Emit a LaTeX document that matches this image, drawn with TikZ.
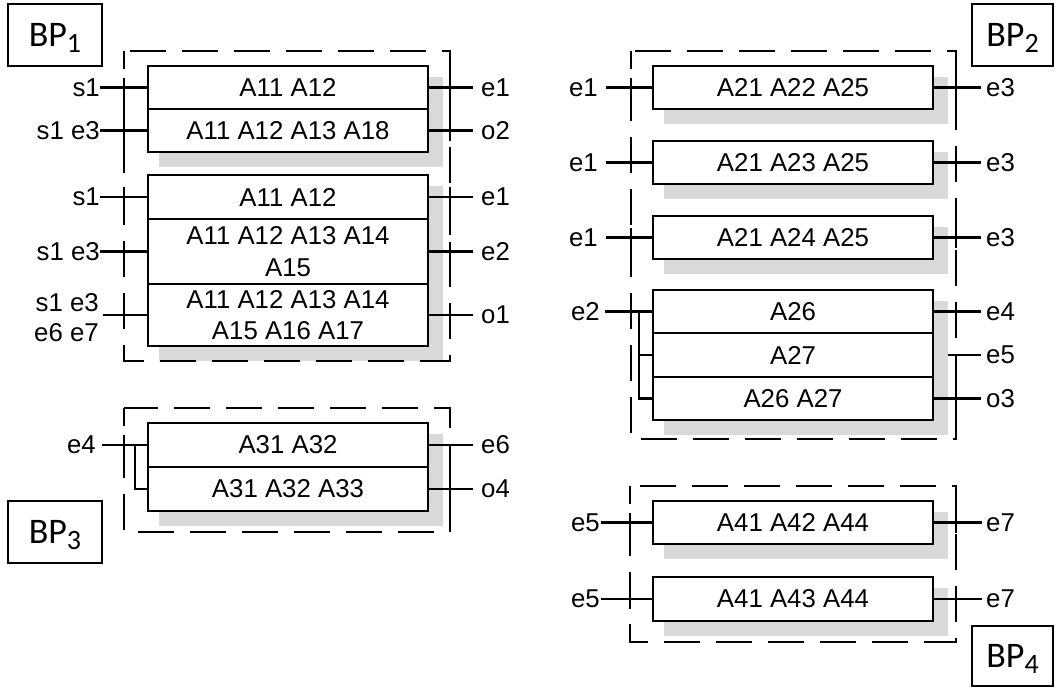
\documentclass[tikz,border=0pt]{standalone}
\usepackage{fontspec}
\setmainfont{Liberation Sans}
\newfontfamily\bpfont{Carlito}
\usetikzlibrary{backgrounds}
\begin{document}
\begin{tikzpicture}[x=1pt,y=-1pt,
 row/.style={draw, line width=2.3pt, fill=white, minimum width=280pt, inner sep=0pt, align=center, font=\fontsize{25.8}{31.7}\selectfont},
 lbl/.style={inner sep=0pt, align=right, font=\fontsize{25.8}{30}\selectfont},
 conn/.style={line width=2.1pt},
 dbox/.style={line width=2.2pt, dash pattern=on 36pt off 16pt, dash phase=18pt},
 tk/.style={line width=2.2pt},
 shd/.style={fill=black!15},
 bp/.style={draw, line width=2.3pt, inner sep=0pt, text height=23pt, text depth=0pt, font=\bpfont\fontsize{36}{36}\selectfont}]
\useasboundingbox (0,0) rectangle (1055,688);

% BP labels
\node[bp, minimum width=94pt, minimum height=62pt] (bp1) at (55,35) {BP\raisebox{-6pt}{\fontsize{28}{28}\selectfont 1}};
\node[bp, minimum width=81pt, minimum height=62pt] (bp2) at (1012.5,35) {BP\raisebox{-6pt}{\fontsize{28}{28}\selectfont 2}};
\node[bp, minimum width=94pt, minimum height=62pt] (bp3) at (55,532) {BP\raisebox{-6pt}{\fontsize{28}{28}\selectfont 3}};
\node[bp, minimum width=81pt, minimum height=60pt] (bp4) at (1012.5,656) {BP\raisebox{-6pt}{\fontsize{28}{28}\selectfont 4}};

% dashed process boundaries
\draw[dbox] (124,51) rectangle (450,361);
\draw[dbox] (124,408) rectangle (450,532);
\draw[dbox] (631,51) rectangle (956,439);
\draw[dbox] (630,486) rectangle (956,642);

% rows group 1
\node[row, minimum height=43pt] (r11) at (288,87.5) {A11 A12};
\node[row, minimum height=43pt] (r12) at (288,130.5) {A11 A12 A13 A18};
\node[row, minimum height=44pt] (r13) at (288,197) {A11 A12};
\node[row, minimum height=65pt] (r14) at (288,251.5) {A11 A12 A13 A14\\A15};
\node[row, minimum height=62pt] (r15) at (288,315) {A11 A12 A13 A14\\A15 A16 A17};
% rows group 3
\node[row, minimum height=44pt] (r31) at (288,445) {A31 A32};
\node[row, minimum height=44pt] (r32) at (288,489) {A31 A32 A33};
% rows group 2
\node[row, minimum height=43pt] (r21) at (793,87.5) {A21 A22 A25};
\node[row, minimum height=43pt] (r22) at (793,162.5) {A21 A23 A25};
\node[row, minimum height=43pt] (r23) at (793,237.5) {A21 A24 A25};
\node[row, minimum height=43pt] (r24) at (793,311.5) {A26};
\node[row, minimum height=44pt] (r25) at (793,355) {A27};
\node[row, minimum height=43pt] (r26) at (793,398.5) {A26 A27};
% rows group 4
\node[row, minimum height=43pt] (r41) at (793,522.5) {A41 A42 A44};
\node[row, minimum height=44pt] (r42) at (793,599) {A41 A43 A44};

% shadows
\begin{scope}[on background layer]
\fill[shd] ([shift={(12.5,12.5)}]r11.north west) rectangle ([shift={(14,14)}]r12.south east);
\fill[shd] ([shift={(12.5,12.5)}]r13.north west) rectangle ([shift={(14,14)}]r15.south east);
\fill[shd] ([shift={(12.5,12.5)}]r31.north west) rectangle ([shift={(14,14)}]r32.south east);
\fill[shd] ([shift={(12.5,12.5)}]r21.north west) rectangle ([shift={(14,14)}]r21.south east);
\fill[shd] ([shift={(12.5,12.5)}]r22.north west) rectangle ([shift={(14,14)}]r22.south east);
\fill[shd] ([shift={(12.5,12.5)}]r23.north west) rectangle ([shift={(14,14)}]r23.south east);
\fill[shd] ([shift={(12.5,12.5)}]r24.north west) rectangle ([shift={(14,14)}]r26.south east);
\fill[shd] ([shift={(12.5,12.5)}]r41.north west) rectangle ([shift={(14,14)}]r41.south east);
\fill[shd] ([shift={(12.5,12.5)}]r42.north west) rectangle ([shift={(14,14)}]r42.south east);
\end{scope}

% group 1 left
\node[lbl, anchor=east] (l11) at (100,87.5) {s1};
\node[lbl, anchor=east] (l12) at (100,130.5) {s1 e3};
\node[lbl, anchor=east] (l13) at (100,197) {s1};
\node[lbl, anchor=east] (l14) at (100,251.5) {s1 e3};
\node[lbl, anchor=east] (l15) at (99,318) {s1 e3\\e6 e7};
\draw[conn] (l11.east) -- (r11.west);
\draw[conn] (l12.east) -- (r12.west);
\draw[conn] (l13.east) -- (r13.west);
\draw[conn] (l14.east) -- (r14.west);
\draw[conn] ([xshift=4pt]l15.east |- r15.west) -- (r15.west);
% group 1 right
\node[lbl, anchor=west] (o11) at (481,87.5) {e1};
\node[lbl, anchor=west] (o12) at (481,130.5) {o2};
\node[lbl, anchor=west] (o13) at (481,197) {e1};
\node[lbl, anchor=west] (o14) at (481,251.5) {e2};
\node[lbl, anchor=west] (o15) at (481,315) {o1};
\draw[conn] (r11.east) -- ([xshift=-8pt]o11.west);
\draw[conn] (r12.east) -- ([xshift=-8pt]o12.west);
\draw[conn] (r13.east) -- ([xshift=-8pt]o13.west);
\draw[conn] (r14.east) -- ([xshift=-8pt]o14.west);
\draw[conn] (r15.east) -- ([xshift=-8pt]o15.west);
\foreach \y in {87.5,130.5,197,251.5,315} {
  \draw[tk] (124,\y-10) -- (124,\y+10);
  \draw[tk] (450,\y-10) -- (450,\y+10);
}

% group 3
\node[lbl, anchor=east] (l31) at (96,445) {e4};
\coordinate (j3) at (135,445);
\draw[conn] ([xshift=6pt]l31.east) -- (r31.west);
\draw[conn] (j3) |- (r32.west);
\node[lbl, anchor=west] (o31) at (481,445) {e6};
\node[lbl, anchor=west] (o32) at (481,489) {o4};
\draw[conn] (r31.east) -- ([xshift=-8pt]o31.west);
\draw[conn] (r32.east) -- ([xshift=-8pt]o32.west);
\draw[tk] (124,435) -- (124,455);
\draw[tk] (450,479) -- (450,499);

% group 2 left
\node[lbl, anchor=east] (l21) at (598,87.5) {e1};
\node[lbl, anchor=east] (l22) at (598,162.5) {e1};
\node[lbl, anchor=east] (l23) at (598,237.5) {e1};
\node[lbl, anchor=east] (l24) at (600,311.5) {e2};
\draw[conn] ([xshift=8pt]l21.east) -- (r21.west);
\draw[conn] ([xshift=8pt]l22.east) -- (r22.west);
\draw[conn] ([xshift=8pt]l23.east) -- (r23.west);
\draw[conn] ([xshift=5pt]l24.east) -- (r24.west);
\coordinate (j2) at (639,311.5);
\draw[conn] (j2) |- (r25.west);
\draw[conn] (j2) |- (r26.west);
% group 2 right
\node[lbl, anchor=west] (o21) at (986,87.5) {e3};
\node[lbl, anchor=west] (o22) at (986,162.5) {e3};
\node[lbl, anchor=west] (o23) at (986,237.5) {e3};
\node[lbl, anchor=west] (o24) at (986,311.5) {e4};
\node[lbl, anchor=west] (o25) at (986,355) {e5};
\node[lbl, anchor=west] (o26) at (986,398.5) {o3};
\draw[conn] (r21.east) -- ([xshift=-5pt]o21.west);
\draw[conn] (r22.east) -- ([xshift=-5pt]o22.west);
\draw[conn] (r23.east) -- ([xshift=-5pt]o23.west);
\draw[conn] (r24.east) -- ([xshift=-5pt]o24.west);
\draw[conn] ([xshift=14pt]r25.east) -- ([xshift=-5pt]o25.west);
\draw[conn] (r26.east) -- ([xshift=-5pt]o26.west);
\foreach \y in {87.5,162.5,237.5} \draw[tk] (631,\y-10) -- (631,\y+10);
\foreach \y in {87.5,162.5,237.5,311.5,398.5} \draw[tk] (956,\y-10) -- (956,\y+10);

% group 4
\node[lbl, anchor=east] (l41) at (600,522.5) {e5};
\node[lbl, anchor=east] (l42) at (600,599) {e5};
\draw[conn] ([xshift=1pt]l41.east) -- (r41.west);
\draw[conn] ([xshift=1pt]l42.east) -- (r42.west);
\node[lbl, anchor=west] (o41) at (986,522.5) {e7};
\node[lbl, anchor=west] (o42) at (986,599) {e7};
\draw[conn] (r41.east) -- ([xshift=-4pt]o41.west);
\draw[conn] (r42.east) -- ([xshift=-4pt]o42.west);
\foreach \y in {522.5,599} {
  \draw[tk] (630,\y-10) -- (630,\y+10);
  \draw[tk] (956,\y-10) -- (956,\y+10);
}
\end{tikzpicture}
\end{document}
